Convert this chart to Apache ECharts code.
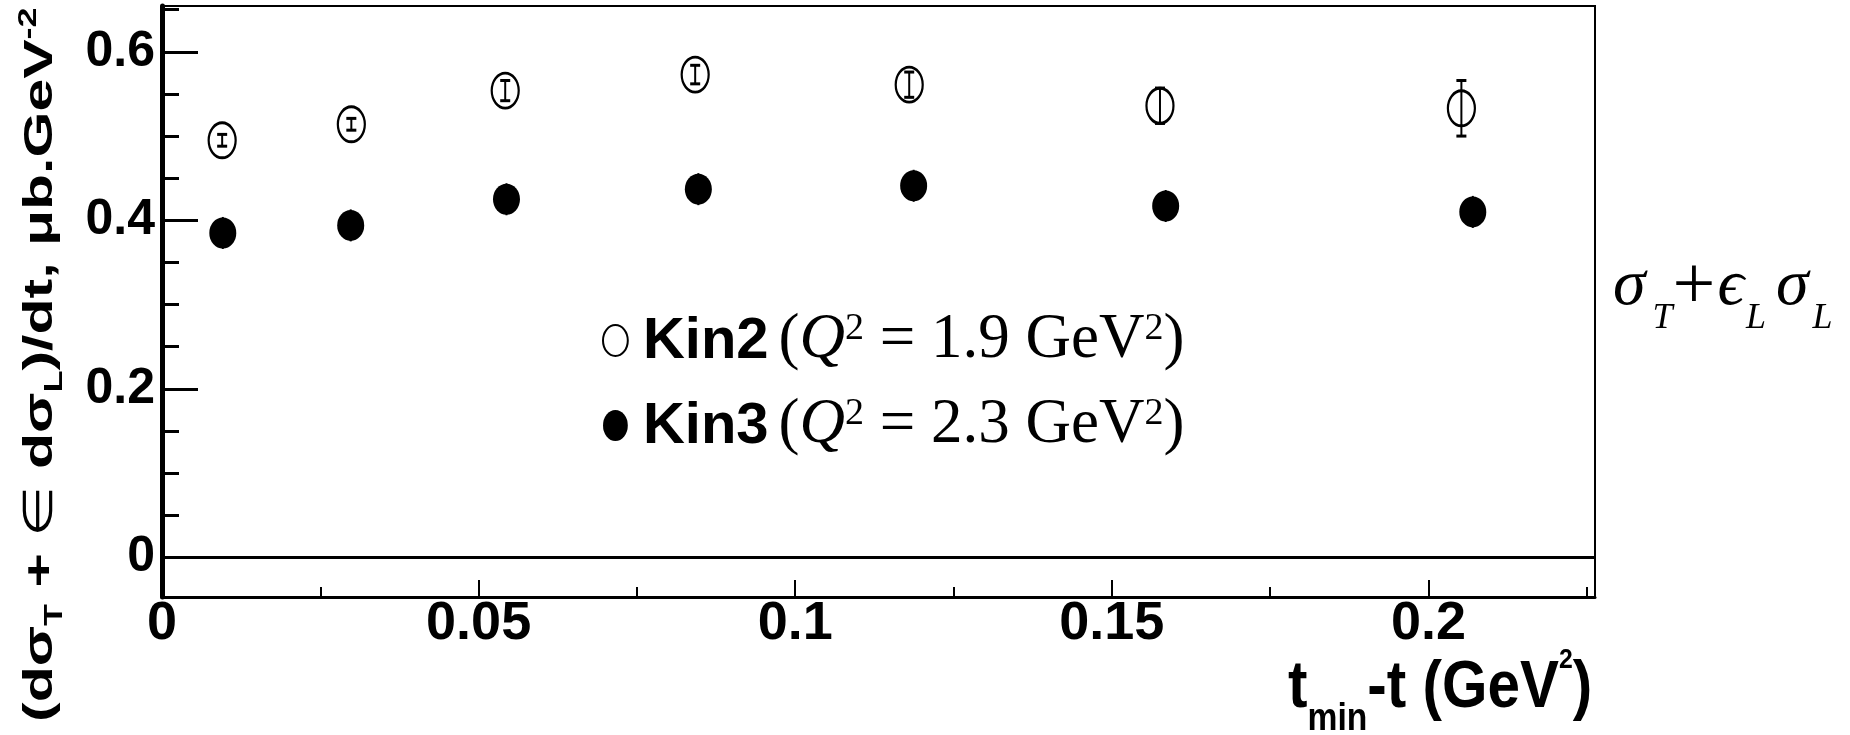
<!DOCTYPE html>
<html><head><meta charset="utf-8">
<script src="https://cdn.jsdelivr.net/npm/echarts@6/dist/echarts.min.js"></script>
<style>html,body{margin:0;padding:0;background:#fff}#c{width:1850px;height:735px}</style>
</head><body><div id="c"></div>
<script>
// ---- data ----
const seriesNames = ['Kin2', 'Kin3'];
const seriesQ2 = ['1.9', '2.3'];
const kin2X = [0.0095, 0.0299, 0.0542, 0.0842, 0.1180, 0.1576, 0.2052];
const kin2Y = [0.495, 0.514, 0.554, 0.573, 0.561, 0.536, 0.533];
const kin2Err = [0.007, 0.007, 0.012, 0.011, 0.015, 0.021, 0.033];
const kin3X = [0.0096, 0.0298, 0.0544, 0.0847, 0.1187, 0.1585, 0.2070];
const kin3Y = [0.385, 0.394, 0.425, 0.437, 0.441, 0.417, 0.410];
const kin3Err = [0.019, 0.019, 0.019, 0.019, 0.019, 0.019, 0.019];
const xMajorTicks = [0, 0.05, 0.1, 0.15, 0.2];
const xMinorTicks = [0.025, 0.075, 0.125, 0.175, 0.225];
const yMajorTicks = [0, 0.2, 0.4, 0.6];
const yMinorTicks = [0.05, 0.1, 0.15, 0.25, 0.3, 0.35, 0.45, 0.5, 0.55, 0.65];

const X_MIN = 0, X_MAX = 0.2263, Y_MIN = -0.0471, Y_MAX = 0.6544;
const SANS = "'Liberation Sans', Arial, 'DejaVu Sans', sans-serif";
const SERIF = "'Liberation Serif', 'Times New Roman', 'DejaVu Serif', serif";
const OVAL = 'path://M0,-15A12,15 0 1,1 0,15A12,15 0 1,1 0,-15Z';

function pts(xs, ys, es) { return xs.map((x, i) => [x, ys[i], es[i]]); }

function errorSeries(name, data, cap, z) {
  return {
    type: 'custom', name: name, data: data, z: z, silent: true,
    encode: { x: 0, y: 1 },
    renderItem: function (params, api) {
      const x = api.value(0), y = api.value(1), e = api.value(2);
      const p1 = api.coord([x, y + e]), p2 = api.coord([x, y - e]);
      const children = [{ type: 'line', shape: { x1: p1[0], y1: p1[1], x2: p2[0], y2: p2[1] },
        style: { stroke: '#000', lineWidth: 2 } }];
      if (cap > 0) {
        children.push({ type: 'line', shape: { x1: p1[0] - cap, y1: p1[1], x2: p1[0] + cap, y2: p1[1] },
          style: { stroke: '#000', lineWidth: 3 } });
        children.push({ type: 'line', shape: { x1: p2[0] - cap, y1: p2[1], x2: p2[0] + cap, y2: p2[1] },
          style: { stroke: '#000', lineWidth: 3 } });
      }
      return { type: 'group', children: children };
    }
  };
}

const chart = echarts.init(document.getElementById('c'), null, { renderer: 'canvas' });

const xAxisBase = { type: 'value', min: X_MIN, max: X_MAX, position: 'bottom', splitLine: { show: false } };
const yAxisBase = { type: 'value', min: Y_MIN, max: Y_MAX, position: 'left', splitLine: { show: false } };

const option = {
  animation: false,
  backgroundColor: '#fff',
  grid: { left: 162, right: 255, top: 6, bottom: 138, show: true, borderColor: '#000', borderWidth: 2, backgroundColor: 'transparent' },
  xAxis: [
    Object.assign({}, xAxisBase, {
      axisLine: { show: true, onZero: false, lineStyle: { color: '#000', width: 3 } },
      axisTick: { show: true, inside: true, length: 17, lineStyle: { color: '#000', width: 2 }, customValues: xMajorTicks },
      axisLabel: { show: true, customValues: xMajorTicks, margin: 0, color: '#000', fontFamily: SANS, fontWeight: 'bold', fontSize: 54 }
    }),
    Object.assign({}, xAxisBase, {
      axisLine: { show: false, onZero: false },
      axisTick: { show: true, inside: true, length: 10, lineStyle: { color: '#000', width: 2 }, customValues: xMinorTicks },
      axisLabel: { show: false }
    })
  ],
  yAxis: [
    Object.assign({}, yAxisBase, {
      axisLine: { show: true, onZero: false, lineStyle: { color: '#000', width: 5 } },
      axisTick: { show: true, inside: true, length: 36, lineStyle: { color: '#000', width: 3 }, customValues: yMajorTicks },
      axisLabel: { show: true, customValues: yMajorTicks, margin: 7, color: '#000', fontFamily: SANS, fontWeight: 'bold', fontSize: 50 }
    }),
    Object.assign({}, yAxisBase, {
      axisLine: { show: false, onZero: false },
      axisTick: { show: true, inside: true, length: 17, lineStyle: { color: '#000', width: 3 }, customValues: yMinorTicks },
      axisLabel: { show: false }
    })
  ],
  legend: {
    orient: 'vertical', left: 602, top: 309, padding: 0, itemGap: 22,
    itemWidth: 25, itemHeight: 31,
    data: [
      { name: seriesNames[0], icon: OVAL, itemStyle: { color: 'rgba(0,0,0,0)', borderColor: '#000', borderWidth: 2 } },
      { name: seriesNames[1], icon: OVAL, itemStyle: { color: '#000', borderWidth: 0 } }
    ],
    formatter: function (name) {
      const q = seriesQ2[seriesNames.indexOf(name)];
      return '{k|' + name + '}{p|(}{q|Q}{s|2}{p| = ' + q + ' GeV}{s|2}{p|)}';
    },
    textStyle: {
      color: '#000',
      rich: {
        k: { fontFamily: SANS, fontWeight: 'bold', fontSize: 58, lineHeight: 58, verticalAlign: 'top', padding: [4, 10, 0, 10], color: '#000' },
        p: { fontFamily: SERIF, fontSize: 63, lineHeight: 63, verticalAlign: 'top', padding: [0, 0, 0, 0], color: '#000' },
        q: { fontFamily: SERIF, fontStyle: 'italic', fontSize: 63, lineHeight: 63, verticalAlign: 'top', padding: [0, 0, 0, 0], color: '#000' },
        s: { fontFamily: SERIF, fontSize: 38, lineHeight: 38, verticalAlign: 'top', padding: [1, 0, 0, 0], color: '#000' }
      }
    }
  },
  graphic: [
    { // y axis title, rotated
      type: 'text', x: 16, y: 722, rotation: Math.PI / 2, scaleY: 0.7, silent: true,
      style: {
        x: 0, y: 0, align: 'left', verticalAlign: 'top', fill: '#000',
        text: '{m|(dσ}{b|T}{m| + }{e|∈}{m| dσ}{b|L}{m|)/dt, μb.GeV}{u|-2}',
        rich: {
          m: { fontFamily: SANS, fontWeight: 'bold', fontSize: 59, lineHeight: 59, verticalAlign: 'top', padding: [5, 0, 0, 0] },
          e: { fontFamily: SANS, fontWeight: 'normal', fontSize: 59, lineHeight: 59, verticalAlign: 'top', padding: [5, 0, 0, 0] },
          b: { fontFamily: SANS, fontWeight: 'bold', fontSize: 36, lineHeight: 36, verticalAlign: 'top', padding: [38, 0, 0, 0] },
          u: { fontFamily: SANS, fontWeight: 'bold', fontSize: 36, lineHeight: 36, verticalAlign: 'top', padding: [0, 0, 0, 0] }
        }
      }
    },
    { // x axis title
      type: 'text', x: 1288, y: 646, scaleX: 0.886, silent: true,
      style: {
        x: 0, y: 0, align: 'left', verticalAlign: 'top', fill: '#000',
        text: '{m|t}{b|min}{m|-t (GeV}{u|2}{m|)}',
        rich: {
          m: { fontFamily: SANS, fontWeight: 'bold', fontSize: 66, lineHeight: 66, verticalAlign: 'top', padding: [10, 0, 0, 0] },
          b: { fontFamily: SANS, fontWeight: 'bold', fontSize: 38, lineHeight: 38, verticalAlign: 'top', padding: [55, 0, 0, 0] },
          u: { fontFamily: SANS, fontWeight: 'bold', fontSize: 28, lineHeight: 28, verticalAlign: 'top', padding: [0, 0, 0, 0] }
        }
      }
    },
    { // right annotation
      type: 'text', x: 1613, y: 242, silent: true,
      style: {
        x: 0, y: 0, align: 'left', verticalAlign: 'top', fill: '#000',
        text: '{a1|σ}{t1|T}{o|+}{a2|ϵ}{l1|L}{a3|σ}{l2|L}',
        rich: {
          a1: { fontFamily: SERIF, fontStyle: 'italic', fontSize: 66, lineHeight: 66, verticalAlign: 'top', padding: [12, 0, 0, 0] },
          t1: { fontFamily: SERIF, fontStyle: 'italic', fontSize: 36, lineHeight: 36, verticalAlign: 'top', padding: [59, 0, 0, 7] },
          o: { fontFamily: SERIF, fontSize: 76, lineHeight: 76, verticalAlign: 'top', padding: [8, 0, 0, 0] },
          a2: { fontFamily: SERIF, fontStyle: 'italic', fontSize: 66, lineHeight: 66, verticalAlign: 'top', padding: [12, 0, 0, 2] },
          l1: { fontFamily: SERIF, fontStyle: 'italic', fontSize: 36, lineHeight: 36, verticalAlign: 'top', padding: [59, 0, 0, 2] },
          a3: { fontFamily: SERIF, fontStyle: 'italic', fontSize: 66, lineHeight: 66, verticalAlign: 'top', padding: [12, 0, 0, 10] },
          l2: { fontFamily: SERIF, fontStyle: 'italic', fontSize: 36, lineHeight: 36, verticalAlign: 'top', padding: [59, 0, 0, 4] }
        }
      }
    }
  ],
  series: [
    errorSeries('Kin3 err', pts(kin3X, kin3Y, kin3Err), 0, 1),
    {
      type: 'scatter', name: seriesNames[1], data: pts(kin3X, kin3Y, kin3Err), z: 2,
      symbol: OVAL, symbolSize: [27, 31], symbolKeepAspect: false,
      itemStyle: { color: '#000', borderWidth: 0, opacity: 1 },
      markLine: {
        silent: true, symbol: ['none', 'none'], label: { show: false },
        lineStyle: { color: '#000', width: 3, type: 'solid' },
        data: [{ yAxis: 0 }]
      }
    },
    {
      type: 'scatter', name: seriesNames[0], data: pts(kin2X, kin2Y, kin2Err), z: 2,
      symbol: OVAL, symbolSize: [27, 35], symbolKeepAspect: false,
      itemStyle: { color: 'rgba(0,0,0,0)', borderColor: '#000', borderWidth: 2.5, opacity: 1 }
    },
    errorSeries('Kin2 err', pts(kin2X, kin2Y, kin2Err), 5, 3)
  ]
};
chart.setOption(option);
</script>
</body></html>
